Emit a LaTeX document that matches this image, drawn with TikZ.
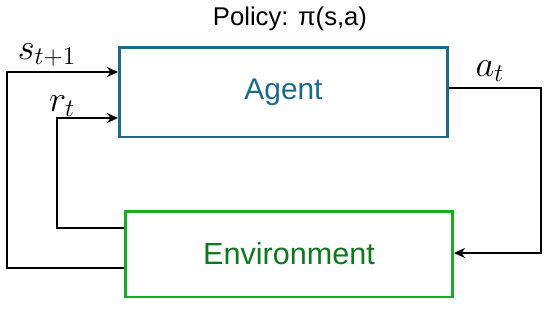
\documentclass[tikz,border=0pt]{standalone}
\usepackage{amsmath}
\usepackage{fontspec}
\setmainfont{Liberation Sans}
\usetikzlibrary{arrows.meta,positioning}
\definecolor{cAgent}{HTML}{1B6B8E}
\definecolor{cEnvBox}{HTML}{12B01E}
\definecolor{cEnvTxt}{HTML}{0B7A1C}
\tikzset{
  blk/.style={draw,line width=1.7pt,inner sep=0pt,fill=white},
  agentbox/.style={blk,draw=cAgent,text=cAgent,minimum width=6.58cm,minimum height=1.8cm,font=\fontsize{17}{20}\selectfont},
  envbox/.style={blk,draw=cEnvBox,text=cEnvTxt,minimum width=6.56cm,minimum height=1.72cm,font=\fontsize{17.4}{20}\selectfont},
  arr/.style={-{Stealth[length=2.2mm,width=2mm]},line width=1pt,black},
  lbl/.style={font=\fontsize{20}{22}\selectfont},
}

\begin{document}
\begin{tikzpicture}[x=0.02cm,y=-0.02cm]
  \useasboundingbox (0,0) rectangle (550,308);
  % boxes
  \node[agentbox] (agent) at (283.5,92) {Agent};
  \node[envbox] (env) at (289,254) {Environment};
  \node[font=\fontsize{14.6}{17}\selectfont] (policy) at (290,19) {Policy: π(s,a)};
  % bends
  \coordinate (sEnv) at (124,268);
  \coordinate (sLow) at (7,268);
  \coordinate (sHigh) at (7,72);
  \coordinate (sAg) at (118,72);
  \coordinate (rEnv) at (124,228);
  \coordinate (rLow) at (57,228);
  \coordinate (rHigh) at (57,118);
  \coordinate (rAg) at (118,118);
  \coordinate (aAg) at (449,88);
  \coordinate (aHigh) at (541,88);
  \coordinate (aLow) at (541,253);
  \coordinate (aEnv) at (454,253);
  % feedback loops
  \draw[arr] (sEnv) -- (sLow) -- (sHigh) -- (sAg);
  \draw[arr] (rEnv) -- (rLow) -- (rHigh) -- (rAg);
  \draw[arr] (aAg) -- (aHigh) -- (aLow) -- (aEnv);
  % labels
  \node[lbl] (sLbl) at (47,55) {$s_{t+1}$};
  \node[lbl] (rLbl) at (62,106) {$r_t$};
  \node[lbl] (aLbl) at (490,71) {$a_t$};
\end{tikzpicture}
\end{document}
